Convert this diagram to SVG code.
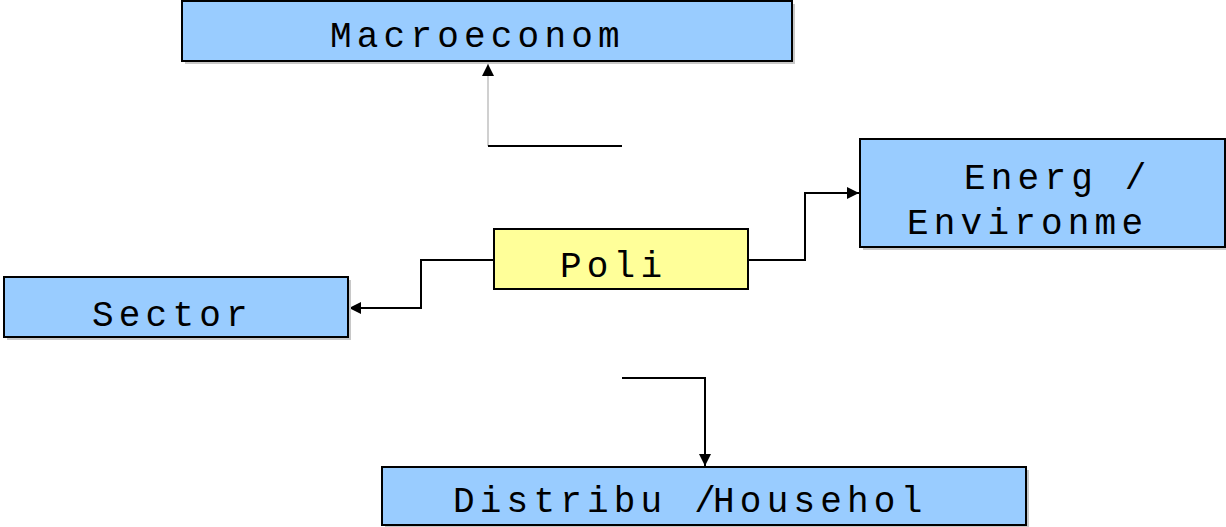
<svg xmlns="http://www.w3.org/2000/svg" width="1226" height="527" viewBox="0 0 1226 527">
<style>
.box{fill:#99CCFF;stroke:#000;stroke-width:2}
.pol{fill:#FFFF99;stroke:#000;stroke-width:2}
.sh{fill:#c8c8c8}
.t{font-family:"Liberation Mono","Courier New",monospace;font-size:36px;letter-spacing:5.2px;fill:#000}
.c{fill:none;stroke:#000;stroke-width:2}
</style>
<defs>
<marker id="ah" viewBox="0 0 10 10" refX="10" refY="5" markerWidth="12" markerHeight="12" markerUnits="userSpaceOnUse" orient="auto">
<path d="M0,0 L10,5 L0,10 z" fill="#000"/>
</marker>
</defs>
<g id="connectors">
<path d="M488,146 L488,64" fill="none" stroke="#d0d0d0" stroke-width="2" marker-end="url(#ah)"/>
<path class="c" d="M488,146 L622,146"/>
<path class="c" d="M748,260 L805,260 L805,193 L859,193" marker-end="url(#ah)"/>
<path class="c" d="M494,260 L421,260 L421,308 L349,308" marker-end="url(#ah)"/>
<path class="c" d="M622,378 L705,378 L705,466" marker-end="url(#ah)"/>
</g>
<g id="macro">
<rect class="sh" x="185" y="4" width="610" height="60"/>
<rect class="box" x="182" y="1" width="610" height="60"/>
<text class="t" x="330" y="47">Macroeconom</text>
</g>
<g id="energy">
<rect class="sh" x="863" y="142" width="363" height="108"/>
<rect class="box" x="860" y="139" width="365" height="108"/>
<text class="t" x="964" y="189">Energ /</text>
<text class="t" x="907" y="234">Environme</text>
</g>
<g id="policy">
<rect class="pol" x="494" y="229" width="254" height="60"/>
<text class="t" x="560" y="277">Poli</text>
</g>
<g id="sector">
<rect class="sh" x="7" y="280" width="344" height="60"/>
<rect class="box" x="4" y="277" width="344" height="60"/>
<text class="t" x="92" y="326">Sector</text>
</g>
<g id="distrib">
<rect class="sh" x="385" y="470" width="644" height="57"/>
<rect class="box" x="382" y="467" width="644" height="58"/>
<text class="t" x="453" y="512">Distribu /<tspan dx="-8">Househol</tspan></text>
</g>
</svg>
